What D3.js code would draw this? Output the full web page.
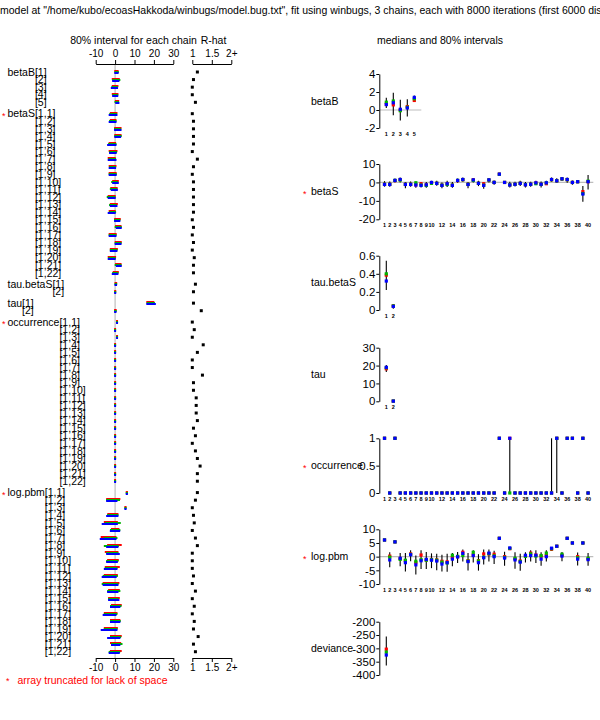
<!DOCTYPE html>
<html><head><meta charset="utf-8">
<script src="https://cdn.jsdelivr.net/npm/d3@7"></script>
<style>
body{margin:0;background:#fff}
svg{display:block}
text{font-family:"Liberation Sans",Arial,Helvetica,sans-serif}
</style>
</head><body><svg id="c" width="600" height="720"></svg>
<script>
// ---------------- DATA ----------------
const titleText = 'Bugs model at "/home/kubo/ecoasHakkoda/winbugs/model.bug.txt", fit using winbugs, 3 chains, each with 8000 iterations (first 6000 discarded)';
const leftHeader = "80% interval for each chain";
const rhatHeader = "R-hat";
const rightHeader = "medians and 80% intervals";
const footNote = "array truncated for lack of space";

const intervalTicks = [-10, 0, 10, 20, 30];
const rhatTicks = [1, 1.5, 2];
const rhatTickLabels = ["1", "1.5", "2+"];

// left panel: variable names, index labels, per-chain 80% intervals [lo,hi], R-hat
const leftNames = ["betaB", "betaS", "tau.betaS", "tau", "occurrence", "log.pbm"];
const leftTruncated = [false, true, false, false, true, true];
const betaB_idx = ["[1]", "[2]", "[3]", "[4]", "[5]"];
const pair_idx = ["[1]", "[2]"];
const mat22_idx = ["[1,1]","[1,2]","[1,3]","[1,4]","[1,5]","[1,6]","[1,7]","[1,8]","[1,9]","[1,10]","[1,11]","[1,12]","[1,13]","[1,14]","[1,15]","[1,16]","[1,17]","[1,18]","[1,19]","[1,20]","[1,21]","[1,22]"];

const betaB_red   = [[0.1,1.3],[-1.2,1.9],[-1.2,1.2],[-1.2,1.2],[0.4,1.6]];
const betaB_green = [[0.2,1.4],[-1.0,2.2],[-1.4,1.0],[-0.9,1.1],[0.2,1.5]];
const betaB_blue  = [[0.1,1.3],[-1.0,1.7],[-1.7,1.0],[-1.0,1.1],[0.6,1.7]];
const betaB_rhat  = [1.13,1.03,1.00,1.00,1.08];

const betaS_red = [[-2.2,0.7],[-2.2,0.2],[0,2.8],[0.1,2.8],[-2.8,0],[-2.8,0.7],[-3.3,-0.2],[-2.8,0.2],[-2.8,0.3],[-1,1.4],[-2,0.8],[-3.3,-0.2],[-2.2,0.9],[-2.8,-0.2],[0,2.4],[0.5,2.8],[-2.8,0.3],[0.3,2.9],[-2.2,0.9],[-3.3,0],[0.5,2.8],[-0.7,1.4]];
const betaS_green = [[-2.5,0.5],[-2.6,0.2],[0,2.6],[0.1,2.9],[-3.1,0.2],[-2.6,0.5],[-2.9,0],[-2.6,0],[-2.8,0.3],[-1.5,1],[-2.2,0.7],[-3.8,-0.3],[-2.6,0.3],[-2.6,0],[0,2.2],[0.3,2.9],[-2.8,0.2],[0.3,2.8],[-2.2,0.7],[-3.1,-0.2],[0.3,2.8],[-1,1.2]];
const betaS_blue = [[-2.8,0.7],[-2.8,0.2],[0,2.8],[0.1,2.6],[-3.6,0.2],[-2.6,0.3],[-3.3,0.2],[-2.8,0],[-2.8,0.3],[-1,1.4],[-1.7,0.9],[-3.3,-0.2],[-2.2,0.7],[-3.3,-0.2],[0,2.2],[0.9,2.9],[-2.8,0.2],[0.3,2.8],[-2.2,0.7],[-3.3,-0.2],[0.9,2.9],[-1.2,1.2]];
const betaS_rhat = [1.00,1.03,1.03,1.03,1.03,1.00,1.13,1.03,1.00,1.03,1.03,1.03,1.03,1.03,1.00,1.03,1.00,1.03,1.00,1.05,1.03,1.03];

const tauBetaS_red   = [[0.22,0.55],[0.02,0.07]];
const tauBetaS_green = [[0.25,0.55],[0.02,0.07]];
const tauBetaS_blue  = [[0.2,0.5],[0.02,0.06]];
const tauBetaS_rhat  = [1.08,1.03];

const tau_red   = [[16.6,19.7],[0.0,0.3]];
const tau_green = [[16.8,20.0],[0.0,0.3]];
const tau_blue  = [[16.6,20.5],[0.0,0.2]];
const tau_rhat  = [1.03,1.23];

const occ_red   = [[1,1],[0,0],[1,1],[0,0],[0,0],[0,0],[0,0],[0,0],[0,0],[0,0],[0,0],[0,0],[0,0],[0,0],[0,0],[0,0],[0,0],[0,0],[0,0],[0,0],[0,0],[0,0]];
const occ_green = [[1,1],[0,0],[1,1],[0,0],[0,0],[0,0],[0,0],[0,0],[0,0],[0,0],[0,0],[0,0],[0,0],[0,0],[0,0],[0,0],[0,0],[0,0],[0,0],[0,0],[0,0],[0,0]];
const occ_blue  = [[1,1],[0,0],[1,1],[0,0],[0,0],[0,0],[0,0],[0,0],[0,0],[0,0],[0,0],[0,0],[0,0],[0,0],[0,0],[0,0],[0,0],[0,0],[0,0],[0,0],[0,0],[0,0]];
const occ_rhat  = [1.00,1.05,1.00,1.28,1.13,1.00,1.00,1.26,1.03,1.03,1.10,1.10,1.10,1.13,1.03,1.08,1.00,1.08,1.13,1.20,1.13,1.13];

const lpbm_red = [[6.0,6.1],[-4.1,2.2],[5.3,5.4],[-3.5,1.2],[-5.3,0.9],[-1.6,1.7],[-6.9,0.2],[-3.6,2.9],[-4.8,1.2],[-3.6,1.4],[-4.8,1.9],[-5.3,0.9],[-5.9,1.7],[-3.1,1.9],[-3.1,1.9],[-1.6,2.9],[-5.3,0.7],[-2.1,2.2],[-5.3,0.9],[-2.1,2.9],[-2.1,2.6],[-2.2,2.9]];
const lpbm_green = [[6.0,6.1],[-4.1,2.0],[5.3,5.4],[-3.6,1.2],[-4.8,2.4],[-2.1,2.2],[-5.3,0.7],[-5.3,1.4],[-4.1,1.2],[-4.1,1.2],[-4.8,0.7],[-5.9,0.9],[-6.4,1.2],[-3.6,2.2],[-3.1,1.2],[-2.1,2.8],[-5.3,0.7],[-2.1,2.4],[-5.3,0.7],[-2.1,2.6],[-1.6,3.3],[-2.8,2.1]];
const lpbm_blue = [[6.0,6.1],[-4.1,0.7],[5.3,5.4],[-4.1,1.2],[-6.4,0.9],[-2.2,2.1],[-7.4,0.2],[-4.1,1.2],[-4.1,1.9],[-4.1,0.9],[-5.3,0.7],[-6.4,0.3],[-5.9,1.2],[-3.6,1.2],[-3.1,1.7],[-2.1,2.2],[-5.9,0.2],[-2.1,2.2],[-6.9,0.7],[-3.6,2.2],[-1.6,2.2],[-2.8,1.9]];
const lpbm_rhat = [1.13,1.08,1.00,1.03,1.05,1.00,1.08,1.13,1.00,1.00,1.00,1.03,1.00,1.08,1.00,1.05,1.00,1.05,1.03,1.15,1.03,1.08];

// right panel: chain medians and overall 80% interval
const rightNames = ["betaB", "betaS", "tau.betaS", "tau", "occurrence", "log.pbm", "deviance"];
const rightTruncated = [false, true, false, false, true, true, false];

const rB_red = [0.65, 0.57, 0.0, 0.38, 1.06];
const rB_green = [0.87, 1.0, -0.08, 0.3, 1.25];
const rB_blue = [0.6, 0.8, 0.08, 0.23, 1.4];
const rB_lo = [0.23, -0.57, -1.17, -0.72, 0.9];
const rB_hi = [1.36, 1.92, 1.13, 1.2, 1.62];

const rS_blue = [-1.1,-1.1,1.1,1.6,-1.1,-1.1,-1.4,-1.6,-1.3,0,-0.5,-1.6,-0.7,-1.6,1.1,1.6,-1.1,1.4,-0.5,-1.6,1.4,0,4.5,0,-1.4,-1,-0.5,-1.3,-1,-0.2,-1,-0.2,1.6,0.9,2.0,1.6,0,0.4,-6.3,0.4];
const rS_green = [-1.0,-1.0,1.1,1.3,-1.0,-1.0,-0.2,-1.4,-1.6,-0.5,-0.5,-1.5,-1.1,-1.5,1.1,1.5,-1.0,1.1,-0.5,-1.5,1.3,0,4.4,0,-1.3,-1,-0.5,-1.2,-1,-0.7,-1,-0.2,1.5,0.9,1.9,1.5,0,0.4,-6.0,0.7];
const rS_red = [-1.0,-1.0,1.0,1.5,-1.0,-1.0,-1.3,-0.7,-1.3,-0.1,-0.5,-1.5,-0.8,-1.5,1.0,1.5,-1.0,1.4,-0.5,-0.7,1.3,0,4.5,0,-1.3,-1,-0.5,-1.2,-1,-0.3,-1,-0.7,1.5,0.9,1.9,1.5,0,0.4,-5.0,0.4];
const rS_lo = [-2.3,-2.3,0,0,-3.2,-2.3,-2.9,-2.7,-2.9,-1.4,-1.8,-3.2,-2.5,-2.9,-0.2,0.4,-3.1,0,-2,-3.4,0,-1.3,3.8,-0.5,-2.7,-2.2,-2,-2.7,-2.3,-1.3,-2.7,-1.3,0.4,-0.2,0.9,-0.2,-1.3,-0.5,-10.5,-3.8];
const rS_hi = [0.7,0.5,2.2,2.7,0.2,0.5,0.5,0.2,0.2,0.9,0.9,0,0.9,0.2,2.2,2.7,0.2,2.3,0.9,0,2.3,1.1,5.2,0.5,0.4,0.4,0.9,0.2,0.4,0.9,0.5,0.9,2.7,2.3,2.7,2.7,1.1,1.3,-2,4];

const rTB_red = [0.385, 0.045];
const rTB_green = [0.40, 0.045];
const rTB_blue = [0.32, 0.04];
const rTB_lo = [0.22, 0.015];
const rTB_hi = [0.545, 0.066];

const rT_red = [18.2, 0.15];
const rT_green = [18.8, 0.15];
const rT_blue = [19.0, 0.1];
const rT_lo = [16.4, 0.0];
const rT_hi = [20.3, 0.5];

const rO_blue  = [1,0,1,0,0,0,0,0,0,0,0,0,0,0,0,0,0,0,0,0,0,0,1,0,1,0,0,0,0,0,0,0,0,1,0,1,1,0,1,0];
const rO_green = [1,0,1,0,0,0,0,0,0,0,0,0,0,0,0,0,0,0,0,0,0,0,1,0,0,0,0,0,0,0,0,0,0,1,0,1,1,0,1,0];
const rO_red   = [1,0,1,0,0,0,0,0,0,0,0,0,0,0,0,0,0,0,0,0,0,0,1,0,1,0,0,0,0,0,0,0,0,1,0,1,1,0,1,0];
const rO_lo    = [1,0,1,0,0,0,0,0,0,0,0,0,0,0,0,0,0,0,0,0,0,0,1,0,0,0,0,0,0,0,0,0,0,0,0,1,1,0,1,0];
const rO_hi    = [1,0,1,0,0,0,0,0,0,0,0,0,0,0,0,0,0,0,0,0,0,0,1,0,1,0,0,0,0,0,0,0,1,1,0,1,1,0,1,0];

const rL_red = [6.1,0.2,5.4,-0.7,-1.5,1.0,-2.2,0.6,-1.2,-1.0,-1.2,-1.7,-1.9,-0.3,0,1.6,-1.5,0.6,-1.5,1.0,1.0,0.9,6.7,0,2.9,-0.8,-1.6,0.3,1.3,0.6,0.2,0.4,2.7,3.8,0.5,6.7,5.0,0,5.0,-0.8];
const rL_green = [6.1,-0.2,5.4,-1.0,-1.3,0.8,-1.7,-1.1,-1.3,-1.1,-1.3,-2.0,-2.3,0.5,0.1,0.4,-1.6,1.6,-1.6,-0.2,1.1,0.3,6.7,-0.3,3.0,-0.6,-1.8,0.1,1.0,0.2,0.4,1.3,2.9,3.8,0.9,6.7,5.0,-0.4,5.0,-0.6];
const rL_blue = [6.1,-1.2,5.4,-0.6,-2.2,0.7,-3.0,-1.5,-1.0,-1.3,-1.6,-2.7,-2.2,-0.9,-0.1,1.2,-1.8,0.4,-2.2,-0.4,1.3,0,6.7,-0.5,3.2,-1.2,-2.0,0.5,0.4,0.5,-0.9,0,3.1,3.8,0.2,6.7,5.0,-0.9,5.0,-1.1];
const rL_lo = [6.1,-3.9,5.4,-3.5,-5.4,-1.7,-6.5,-4.5,-4.5,-4.2,-5.0,-5.4,-5.5,-3.5,-2.3,-1.8,-5.1,-2.1,-5.1,-2.9,-1.8,-2.7,6.7,-3.3,2.7,-4.4,-5.2,-2.1,-1.8,-2.3,-3.3,-1.8,2.1,3.8,-1.7,6.7,5.0,-3.2,5.0,-3.3];
const rL_hi = [6.1,1.6,5.4,1.3,1.3,2.3,0.4,2.3,1.7,1.2,1.1,0.7,1.1,1.3,1.7,2.6,1.3,2.3,0.9,2.6,2.6,2.2,6.7,1.8,3.4,1.6,1.1,1.6,2.3,2.3,1.6,2.3,3.1,3.8,1.7,6.7,5.0,1.5,5.0,1.3];

const rD_red = [-303];
const rD_green = [-314];
const rD_blue = [-325];
const rD_lo = [-364];
const rD_hi = [-256];

const rB_ticks = [-2, 0, 2, 4];
const rS_ticks = [-20, -10, 0, 10];
const rTB_ticks = [0, 0.2, 0.4, 0.6];
const rT_ticks = [0, 10, 20, 30];
const rO_ticks = [0, 0.5, 1];
const rL_ticks = [-10, -5, 0, 5, 10];
const rD_ticks = [-400, -350, -300, -250, -200];

const xlab5 = [1, 2, 3, 4, 5];
const xlab2 = [1, 2];
const xlab40 = [1,2,3,4,5,6,7,8,9,10,12,14,16,18,20,22,24,26,28,30,32,34,36,38,40];

// ---------------- DRAW ----------------
const svg = d3.select("#c");
const COL = {red: "#ff0000", green: "#00b400", blue: "#0000ff"};
const GRAY = "#bdbdbd";

// title
const t = svg.append("text").attr("y", 14).attr("font-size", 10.5).text(titleText);
const off = t.node().getSubStringLength(0, 5);
t.attr("x", -off);

// headers
const xI = d3.scaleLinear().domain([-10, 30]).range([95.7, 173.3]);
const xR = d3.scaleLinear().domain([1, 2]).range([192.3, 231.3]);
svg.append("text").attr("x", 133.5).attr("y", 44).attr("text-anchor", "middle").attr("font-size", 10.5).text(leftHeader);
svg.append("text").attr("x", 213.5).attr("y", 44).attr("text-anchor", "middle").attr("font-size", 10.5).text(rhatHeader);
svg.append("text").attr("x", 440).attr("y", 44).attr("text-anchor", "middle").attr("font-size", 10.5).text(rightHeader);

const topY = 64, botY = 658;
function styleAxis(g, fs) {
  g.selectAll("path.domain").attr("stroke", "#000").attr("stroke-width", 1);
  g.selectAll(".tick line").attr("stroke", "#000");
  g.selectAll(".tick text").attr("font-size", fs).attr("font-family", '"Liberation Sans",Arial,sans-serif').attr("fill", "#000");
}
// gray zero line
svg.append("line").attr("x1", xI(0)).attr("x2", xI(0)).attr("y1", topY).attr("y2", botY).attr("stroke", GRAY).attr("stroke-width", 1.2);

const aTop = svg.append("g").attr("transform", `translate(0,${topY})`)
  .call(d3.axisTop(xI).tickValues(intervalTicks).tickSize(4).tickSizeOuter(0).tickPadding(3).tickFormat(d => String(d)));
styleAxis(aTop, 10);
const aBot = svg.append("g").attr("transform", `translate(0,${botY})`)
  .call(d3.axisBottom(xI).tickValues(intervalTicks).tickSize(4).tickSizeOuter(0).tickPadding(2).tickFormat(d => String(d)));
styleAxis(aBot, 10);
const rTop = svg.append("g").attr("transform", `translate(0,${topY})`)
  .call(d3.axisTop(xR).tickValues(rhatTicks).tickSize(4).tickSizeOuter(0).tickPadding(3).tickFormat((d, i) => rhatTickLabels[i]));
styleAxis(rTop, 10);
const rBot = svg.append("g").attr("transform", `translate(0,${botY})`)
  .call(d3.axisBottom(xR).tickValues(rhatTicks).tickSize(4).tickSizeOuter(0).tickPadding(2).tickFormat((d, i) => rhatTickLabels[i]));
styleAxis(rBot, 10);

const leftGroups = [
  {idx: betaB_idx, r: betaB_red, g: betaB_green, b: betaB_blue, rh: betaB_rhat},
  {idx: mat22_idx, r: betaS_red, g: betaS_green, b: betaS_blue, rh: betaS_rhat},
  {idx: pair_idx, r: tauBetaS_red, g: tauBetaS_green, b: tauBetaS_blue, rh: tauBetaS_rhat},
  {idx: pair_idx, r: tau_red, g: tau_green, b: tau_blue, rh: tau_rhat},
  {idx: mat22_idx, r: occ_red, g: occ_green, b: occ_blue, rh: occ_rhat},
  {idx: mat22_idx, r: lpbm_red, g: lpbm_green, b: lpbm_blue, rh: lpbm_rhat}
];
const rowY0 = 72, rowStep = 7.578;
let rowN = 0;
const leftG = svg.append("g");
leftGroups.forEach((grp, gi) => {
  const nameX = 7.5;
  let nameW = 0;
  grp.idx.forEach((lab, i) => {
    const y = rowY0 + rowStep * (rowN + 0.5 * gi);
    rowN++;
    if (i === 0) {
      const nt = leftG.append("text").attr("x", nameX).attr("y", y + 3.7).attr("font-size", 10.5).text(leftNames[gi]);
      nameW = nt.node().getComputedTextLength();
      if (leftTruncated[gi]) {
        leftG.append("text").attr("x", 2).attr("y", y + 5).attr("font-size", 9).attr("fill", "red").text("*");
      }
    }
    leftG.append("text").attr("x", nameX + nameW).attr("y", y + 3.7).attr("font-size", 10.5).text(lab);
    const yb = Math.round(y);
    [["r", -1, COL.red], ["g", 0, COL.green], ["b", 1, COL.blue]].forEach(([k, o, c]) => {
      const iv = grp[k][i];
      leftG.append("line").attr("x1", xI(iv[0])).attr("x2", xI(iv[1]))
        .attr("y1", yb + o).attr("y2", yb + o)
        .attr("stroke", c).attr("stroke-width", 2).attr("stroke-linecap", "square");
    });
    leftG.append("rect").attr("x", xR(grp.rh[i]) - 1.5).attr("y", y - 1.5).attr("width", 3).attr("height", 3).attr("fill", "#000");
  });
});

// footnote
svg.append("text").attr("x", 6).attr("y", 684).attr("font-size", 9).attr("fill", "red").text("*");
svg.append("text").attr("x", 17.5).attr("y", 684).attr("font-size", 10.5).attr("fill", "red").text(footNote);

// right panels
const panels = [
  {dom: [-2, 4], ticks: rB_ticks, top: 74, bot: 128, r: rB_red, g: rB_green, b: rB_blue, lo: rB_lo, hi: rB_hi, xl: xlab5},
  {dom: [-20, 10], ticks: rS_ticks, top: 164, bot: 219.3, r: rS_red, g: rS_green, b: rS_blue, lo: rS_lo, hi: rS_hi, xl: xlab40},
  {dom: [0, 0.6], ticks: rTB_ticks, top: 255.7, bot: 310, r: rTB_red, g: rTB_green, b: rTB_blue, lo: rTB_lo, hi: rTB_hi, xl: xlab2},
  {dom: [0, 30], ticks: rT_ticks, top: 347.7, bot: 401.3, r: rT_red, g: rT_green, b: rT_blue, lo: rT_lo, hi: rT_hi, xl: xlab2},
  {dom: [0, 1], ticks: rO_ticks, top: 438.3, bot: 493, r: rO_red, g: rO_green, b: rO_blue, lo: rO_lo, hi: rO_hi, xl: xlab40},
  {dom: [-10, 10], ticks: rL_ticks, top: 529.3, bot: 584, r: rL_red, g: rL_green, b: rL_blue, lo: rL_lo, hi: rL_hi, xl: xlab40},
  {dom: [-400, -200], ticks: rD_ticks, top: 621.7, bot: 675, r: rD_red, g: rD_green, b: rD_blue, lo: rD_lo, hi: rD_hi, xl: []}
];
const axX = 379.3;
panels.forEach((p, pi) => {
  const J = p.b.length;
  const sp = Math.min(7, 214 / (J + 1));
  const x = d3.scaleLinear().domain([0, J + 1]).range([axX, axX + (J + 1) * sp]);
  const y = d3.scaleLinear().domain(p.dom).range([p.bot, p.top]);
  const g = svg.append("g");
  g.append("text").attr("x", 311).attr("y", (p.top + p.bot) / 2 + 3.5).attr("font-size", 10.5).text(rightNames[pi]);
  if (rightTruncated[pi]) g.append("text").attr("x", 303).attr("y", (p.top + p.bot) / 2 + 5).attr("font-size", 9).attr("fill", "red").text("*");
  if (p.dom[0] < 0 && p.dom[1] > 0) {
    g.append("line").attr("x1", axX).attr("x2", x(J + 1)).attr("y1", y(0)).attr("y2", y(0)).attr("stroke", GRAY).attr("stroke-width", 1.2);
  }
  const ax = g.append("g").attr("transform", `translate(${axX},0)`)
    .call(d3.axisLeft(y).tickValues(p.ticks).tickSize(3).tickSizeOuter(0).tickPadding(1).tickFormat(d => String(d)));
  styleAxis(ax, 11.5);
  p.xl.forEach(k => {
    g.append("text").attr("x", x(k)).attr("y", p.bot + 8).attr("text-anchor", "middle").attr("font-size", 5.5).attr("font-weight", "bold").text(String(k));
  });
  for (let i = 0; i < J; i++) {
    if (p.hi[i] > p.lo[i]) {
      g.append("line").attr("x1", x(i + 1)).attr("x2", x(i + 1)).attr("y1", y(p.lo[i])).attr("y2", y(p.hi[i])).attr("stroke", "#000").attr("stroke-width", 1.1);
    }
  }
  [["r", COL.red], ["g", COL.green], ["b", COL.blue]].forEach(([k, c]) => {
    for (let i = 0; i < J; i++) {
      g.append("rect").attr("x", x(i + 1) - 1.6).attr("y", y(p[k][i]) - 1.6).attr("width", 3.2).attr("height", 3.2).attr("fill", c);
    }
  });
});
</script></body></html>
